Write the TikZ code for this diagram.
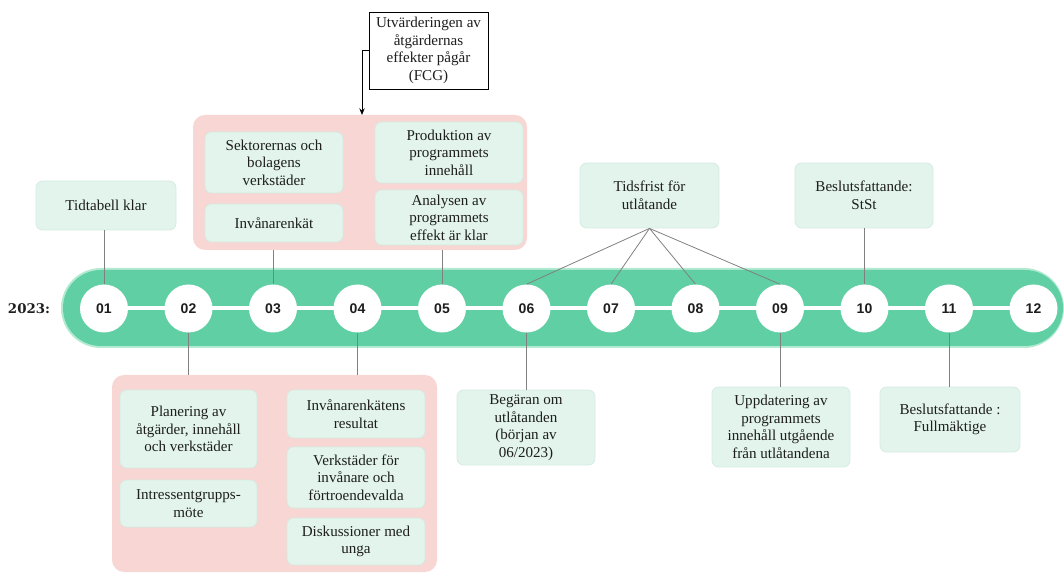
\documentclass[tikz,border=0pt]{standalone}
\usepackage{fontspec}
\setmainfont{Liberation Serif}
\newfontfamily\numfont{Liberation Sans}
\newfontfamily\yearfont{DejaVu Serif}
\usetikzlibrary{arrows.meta}
\definecolor{bandgreen}{RGB}{96,208,164}
\definecolor{bandedge}{RGB}{178,234,210}
\definecolor{pinkbg}{RGB}{247,214,211}
\definecolor{mint}{RGB}{226,244,236}
\definecolor{mintedge}{RGB}{212,236,225}
\definecolor{conn}{RGB}{128,128,128}
\definecolor{txt}{RGB}{30,30,30}
\tikzset{
  box/.style={rounded corners=5pt, fill=mint, draw=mintedge, line width=0.6pt,
    align=center, inner sep=0pt, text=txt,
    font=\fontsize{11.3}{13.2}\selectfont},
  group/.style={rounded corners=9pt, fill=pinkbg, draw=none, inner sep=0pt},
  month/.style={circle, fill=white, minimum size=36pt, inner sep=0pt,
    font=\numfont\bfseries\fontsize{10.5}{12}\selectfont, text=txt},
  link/.style={draw=conn, line width=0.6pt},
}
\begin{document}
\begin{tikzpicture}[x=0.75pt,y=-0.75pt]
\useasboundingbox (0,0) rectangle (1064,573);
% timeline band
\fill[bandedge, rounded corners=30pt] (61,268) rectangle (1064,348);
\fill[bandgreen, rounded corners=28.5pt] (63,270) rectangle (1063,346);
\draw[white, line width=3pt] (104,308.5) -- (1033.5,308.5);
\node[font=\yearfont\bfseries\fontsize{10}{12}\selectfont, text=txt] (year) at (29,308.5) {2023:};
\foreach \i/\lab in {0/01,1/02,2/03,3/04,4/05,5/06,6/07,7/08,8/09,9/10,10/11,11/12}{
  \node[month] (m\lab) at ({104+84.5*\i},308.5) {\lab};
}
% top groups
\node[group, minimum width=250.5pt, minimum height=101.25pt] (pinktop) at (360,182.5) {};
\node[box, minimum width=103.5pt, minimum height=45.75pt] (sek) at (274,162.5) {Sektorernas och\\bolagens\\verkstäder};
\node[box, minimum width=103.5pt, minimum height=28.5pt] (inv) at (274,223) {Invånarenkät};
\node[box, minimum width=111pt, minimum height=45.75pt] (prod) at (449,152.5) {Produktion av\\programmets\\innehåll};
\node[box, minimum width=111pt, minimum height=41.25pt] (ana) at (449,217.5) {Analysen av\\programmets\\effekt är klar};
\node[box, rounded corners=0pt, fill=white, draw=black, line width=0.7pt, minimum width=89.25pt, minimum height=57.75pt] (fcg) at (428.5,50.5) {Utvärderingen av\\åtgärdernas\\effekter pågår\\(FCG)};
\node[box, minimum width=105pt, minimum height=36.75pt] (tid) at (106,205.5) {Tidtabell klar};
\node[box, minimum width=104.25pt, minimum height=48.75pt] (tids) at (649.5,195.5) {Tidsfrist för\\utlåtande};
\node[box, minimum width=103.5pt, minimum height=48.75pt] (stst) at (864,195.5) {Beslutsfattande:\\StSt};
% bottom groups
\node[group, minimum width=243.75pt, minimum height=147.75pt] (pinkbot) at (274.5,473.5) {};
\node[box, minimum width=102.75pt, minimum height=58.5pt] (plan) at (188.5,429) {Planering av\\åtgärder, innehåll\\och verkstäder};
\node[box, minimum width=102.75pt, minimum height=35.25pt] (intr) at (188.5,503.5) {Intressentgrupps-\\möte};
\node[box, minimum width=103.5pt, minimum height=36pt] (res) at (356,414) {Invånarenkätens\\resultat};
\node[box, minimum width=103.5pt, minimum height=45.75pt] (verk) at (356,477.5) {Verkstäder för\\invånare och\\förtroendevalda};
\node[box, minimum width=103.5pt, minimum height=35.25pt] (disk) at (356,541.5) {Diskussioner med\\unga};
\node[box, minimum width=103.5pt, minimum height=56.25pt] (beg) at (526,427.5) {Begäran om\\utlåtanden\\(början av\\06/2023)};
\node[box, minimum width=103.5pt, minimum height=60pt] (upp) at (781,427) {Uppdatering av\\programmets\\innehåll utgående\\från utlåtandena};
\node[box, minimum width=105pt, minimum height=48.75pt] (full) at (950,419.5) {Beslutsfattande :\\Fullmäktige};
% connectors
\draw[link] (m01.north) -- (m01.north |- tid.south);
\draw[link] (m03.north) -- (m03.north |- pinktop.south);
\draw[link] (m05.north) -- (m05.north |- pinktop.south);
\draw[link] (m10.north) -- (m10.north |- stst.south);
\draw[link] (tids.south) -- (m06.north);
\draw[link] (tids.south) -- (m07.north);
\draw[link] (tids.south) -- (m08.north);
\draw[link] (tids.south) -- (m09.north);
\draw[link] (m02.south) -- (m02.south |- pinkbot.north);
\draw[link] (m04.south) -- (m04.south |- pinkbot.north);
\draw[link] (m06.south) -- (m06.south |- beg.north);
\draw[link] (m09.south) -- (m09.south |- upp.north);
\draw[link] (m11.south) -- (m11.south |- full.north);
\coordinate (fcgend) at (362,115);
\draw[black, line width=0.7pt, -{Stealth[length=5pt,width=4pt]}] (fcg.west) -| (fcgend);
\end{tikzpicture}
\end{document}
